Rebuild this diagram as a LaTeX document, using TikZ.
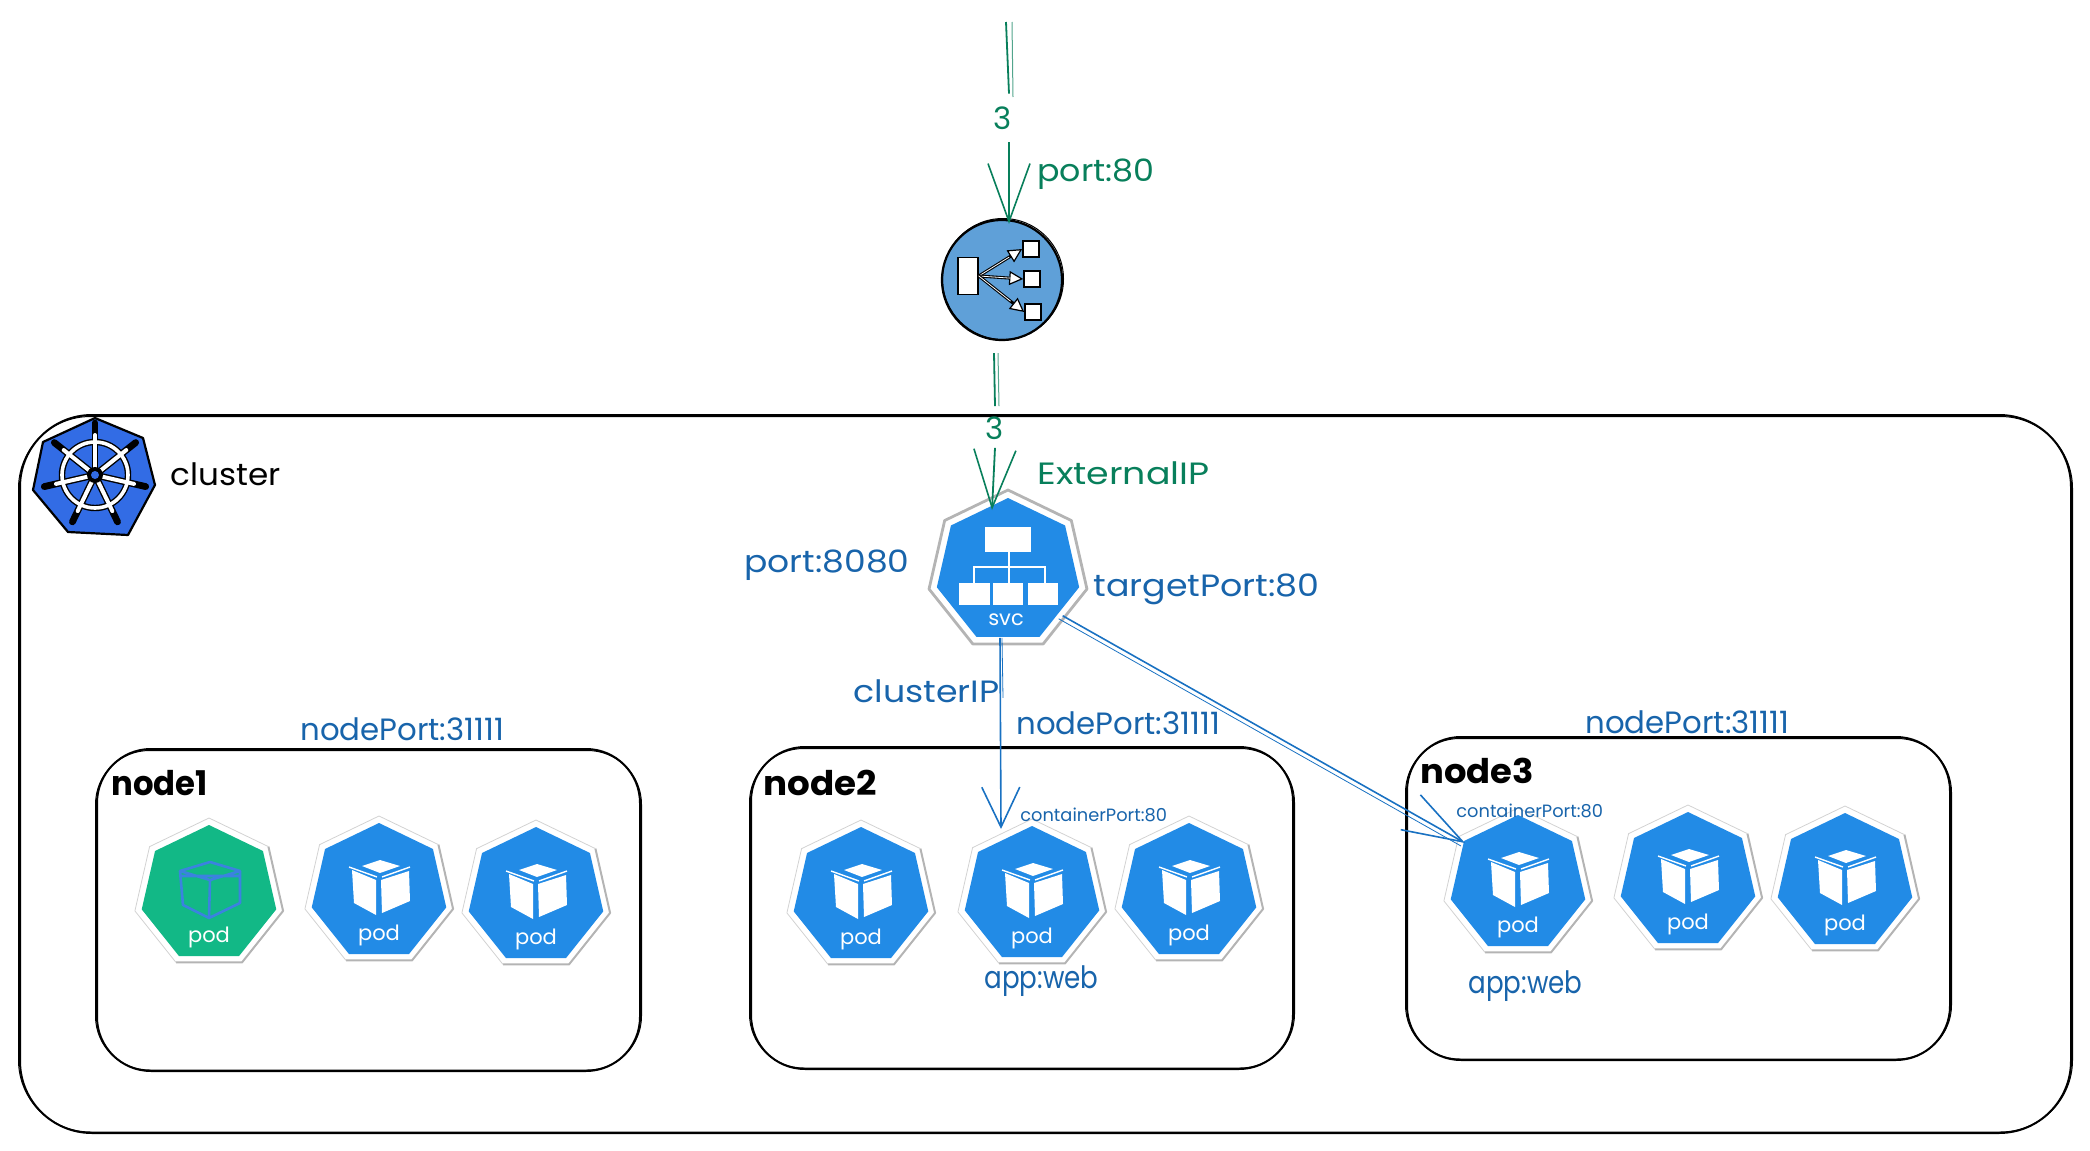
\documentclass[tikz,border=0pt]{standalone}
\usepackage{fontspec}
\setmainfont{Poppins}
\usetikzlibrary{shapes.geometric,arrows.meta,calc}
\definecolor{podblue}{HTML}{228BE6}
\definecolor{podgreen}{HTML}{12B886}
\definecolor{txtb}{HTML}{1864AB}
\definecolor{lineb}{HTML}{1971C2}
\definecolor{txtg}{HTML}{087F5B}
\definecolor{haloc}{HTML}{B4B4B4}
\definecolor{k8s}{HTML}{326CE5}
\definecolor{lbfill}{HTML}{5FA0D8}
\definecolor{cubeline}{HTML}{3B82E0}
\newcommand{\sketchbox}[5]{%
  \draw[line width=1pt,black,rounded corners=#5] (#1,#2) rectangle (#3,#4);
  \draw[line width=.5pt,black,rounded corners=#5] (#1-1.5,#2+1.5) rectangle (#3+1.5,#4-1);}
\newcommand{\sx}[2]{\scalebox{#1}[1]{#2}}
\tikzset{
  x=0.5pt,y=-0.5pt,
  lab/.style={inner sep=0pt,anchor=west,yshift=-1pt,font=\fontsize{15.4}{18}\selectfont},
  lb/.style={lab,text=txtb},
  lg/.style={lab,text=txtg},
  lk/.style={lab,text=black},
  nodename/.style={lab,text=black,font=\fontsize{17}{20}\selectfont\bfseries},
  smalltxt/.style={lab,text=txtb,font=\fontsize{8.9}{10}\selectfont},
  threelab/.style={inner sep=0pt,text=txtg,font=\fontsize{15.4}{18}\selectfont},
  hepta/.style={regular polygon,regular polygon sides=7,inner sep=0pt,outer sep=0pt},
  halo/.style={draw=haloc,line width=1pt,line join=round},
  halothin/.style={draw=haloc!60,line width=.4pt,line join=round},
  gconn/.style={draw=txtg,line width=.9pt},
  gthin/.style={draw=txtg!70,line width=.5pt},
  bconn/.style={draw=lineb,line width=.8pt},
  bthin/.style={draw=lineb,line width=.4pt},
  gtip/.style={-{Straight Barb[length=29pt,width=21pt,line width=.8pt]}},
  btip/.style={-{Straight Barb[length=20pt,width=19pt,line width=.8pt]}},
  dtip/.style={-{Straight Barb[length=30pt,width=20pt,line width=.8pt]}},
  pics/podicon/.style n args={2}{code={
    \node (-halo) [hepta,minimum size=76pt] at (0,69) {};
    \draw[halo] (-halo.corner 7) -- (-halo.corner 6) -- (-halo.corner 5) -- (-halo.corner 4);
    \draw[halothin] (-halo.corner 4) -- (-halo.corner 3) -- (-halo.corner 2) -- (-halo.corner 1) -- (-halo.corner 7);
    \node (-body) [hepta,fill=#1,minimum size=69pt] at (0,69) {};
    \ifx#2c\relax
      \draw[cubeline,line width=1.3pt,line join=round]
        (1,37) -- (31,46) -- (1,55) -- (-29,46) -- cycle
        (-29,46) -- (-26,80) -- (0,93) -- (31,78) -- (31,46)
        (1,55) -- (0,93) (-29,51) -- (31,51);
    \else
      \fill[white,line join=round] (1,37) -- (21,43) -- (1,50) -- (-17,43) -- cycle;
      \draw[white,line width=.7pt] (-30,44) -- (-2,54) (31,44) -- (3,54);
      \fill[white] (-27,47) -- (-25,80) -- (-3,92) -- (-3,57) -- cycle;
      \fill[white] (2,57) -- (30,48) -- (31,78) -- (3,90) -- cycle;
    \fi
    \node (-lab) [inner sep=0pt,text=white,font=\fontsize{10.5}{12}\selectfont] at (0,112) {pod};
  }},
}
\begin{document}
\begin{tikzpicture}
\useasboundingbox (0,0) rectangle (2090,1151);
% cluster and node boxes
\sketchbox{20}{415}{2071}{1133}{36pt}
\sketchbox{97}{749}{640}{1071}{27pt}
\sketchbox{751}{747}{1293}{1069}{27pt}
\sketchbox{1407}{737}{1950}{1060}{27pt}
% kubernetes logo
\draw[fill=k8s,line width=1.1pt,line join=round] (95,418) -- (143,438) -- (155,485) -- (128,535) -- (68,532) -- (33,490) -- (43,442) -- cycle;
\foreach \a in {90,38.57,-12.86,-64.29,-115.71,-167.14,141.43}{
  \draw[black,line width=3.4pt,line cap=round] (95,475) -- ++(\a:-52);
}
\draw[black,line width=3.2pt] (95,475) circle (33);
\draw[white,line width=1.8pt] (95,475) circle (33);
\foreach \a in {90,38.57,-12.86,-64.29,-115.71,-167.14,141.43}{
  \draw[white,line width=2pt,line cap=round] (95,475) -- ++(\a:-40);
}
\fill[black] (95,475) circle (8);
\fill[k8s] (95,475) circle (4);
\node (clusterlab) [lk] at (170,472) {\sx{1.06}{cluster}};
% pods
\pic (n1a) at (209,825) {podicon={podgreen}{c}};
\pic (n1b) at (379,823) {podicon={podblue}{w}};
\pic (n1c) at (536,827) {podicon={podblue}{w}};
\pic (n2a) at (861,827) {podicon={podblue}{w}};
\pic (n2b) at (1032,826) {podicon={podblue}{w}};
\pic (n2c) at (1189,823) {podicon={podblue}{w}};
\pic (n3a) at (1518,815) {podicon={podblue}{w}};
\pic (n3b) at (1688,812) {podicon={podblue}{w}};
\pic (n3c) at (1845,813) {podicon={podblue}{w}};
% service
\node (svchalo) [hepta,minimum size=81pt,draw=haloc,line width=1.4pt,line join=round] at (1008,571) {};
\node (svc) [hepta,fill=podblue,minimum size=73pt] at (1008,571) {};
\fill[white] (985,527) rectangle (1031,552);
\fill[white] (959,583) rectangle (990,605);
\fill[white] (993,583) rectangle (1023,605);
\fill[white] (1028,583) rectangle (1058,605);
\draw[white,line width=1.2pt] (1009,552) -- (1009,583) (974,583) -- (974,567) -- (1045,567) -- (1045,583);
\node (svclab) [inner sep=0pt,text=white,font=\fontsize{10.5}{12}\selectfont] at (1006,620) {svc};
% load balancer
\node (lbc) [circle,fill=lbfill,draw=black,line width=1.1pt,minimum size=60pt,inner sep=0pt] at (1002,280) {};
\draw[line width=.5pt] (1003,279) circle (60.5);
\node (lbsrc) [draw=black,fill=white,line width=.8pt,minimum width=10pt,minimum height=18.5pt,inner sep=0pt] at (968,276) {};
\node (lbd1) [draw=black,fill=white,line width=.8pt,minimum width=8pt,minimum height=8pt,inner sep=0pt] at (1031,249) {};
\node (lbd2) [draw=black,fill=white,line width=.8pt,minimum width=8pt,minimum height=8pt,inner sep=0pt] at (1032,279) {};
\node (lbd3) [draw=black,fill=white,line width=.8pt,minimum width=8pt,minimum height=8pt,inner sep=0pt] at (1033,312) {};
\foreach \d in {lbd1,lbd2,lbd3}{
  \draw[black,line width=1.5pt,-{Triangle[open,fill=white,length=7pt,width=7pt,line width=.6pt]}] (lbsrc.east) -- (\d.west);
  \draw[white,line width=.4pt] (lbsrc.east) -- ($(lbsrc.east)!.7!(\d.west)$);
}
% connectors
\coordinate (inA) at (1006,22);
\node (three1) [threelab,minimum height=24pt] at (1003,118) {3};
\draw[gconn] (inA) -- ([xshift=3pt]three1.north);
\draw[gthin] ([xshift=3pt]inA) -- ++(1,75);
\draw[gconn,gtip] ([xshift=3pt]three1.south) -- ([shift={(7,5)}]lbc.north);
\node (three2) [threelab] at (995,428) {3};
\draw[gconn] ([shift={(-8,12)}]lbc.south) -- ([yshift=5pt]three2.north);
\draw[gthin] ([shift={(-4,12)}]lbc.south) -- ([shift={(4,5pt)}]three2.north);
\draw[gconn,gtip] ([yshift=-4pt]three2.south) -- ([shift={(-16,12)}]svc.corner 1);
\draw[bconn,btip] ([shift={(-8,1)}]svc.south) -- ([shift={(-31,3)}]n2b-body.corner 1);
\draw[bthin] ([shift={(-6,1)}]svc.south) -- ++(1,60);
\draw[bconn,dtip] ([shift={(23,-21)}]svc.corner 5) -- ([shift={(-53,28)}]n3a-body.corner 1);
\draw[bthin] ([shift={(19,-18)}]svc.corner 5) -- ([shift={(-57,31)}]n3a-body.corner 1);
% labels
\node (t1) [lg] at (1037,172) {\sx{1.08}{port:80}};
\node (t2) [lg] at (1037,471) {\sx{1.18}{ExternalIP}};
\node (t3) [lb] at (744,563) {\sx{1.12}{port:8080}};
\node (t4) [lb] at (1093,587) {\sx{1.13}{targetPort:80}};
\node (t5) [lb] at (853,689) {\sx{1.13}{clusterIP}};
\node (t6) [lb] at (300,727) {nodePort:31111};
\node (t7) [lb] at (1016,721) {nodePort:31111};
\node (t8) [lb] at (1585,720) {nodePort:31111};
\node (t9) [nodename] at (111,781) {\sx{.95}{node1}};
\node (t10) [nodename] at (763,781) {\sx{1.05}{node2}};
\node (t11) [nodename] at (1420,769) {\sx{1.04}{node3}};
\node (t12) [smalltxt] at (1020,813) {containerPort:80};
\node (t13) [smalltxt] at (1456,809) {containerPort:80};
\node (t14) [lb] at (984,979) {\sx{.85}{app:web}};
\node (t15) [lb] at (1468,984) {\sx{.85}{app:web}};
\end{tikzpicture}
\end{document}
